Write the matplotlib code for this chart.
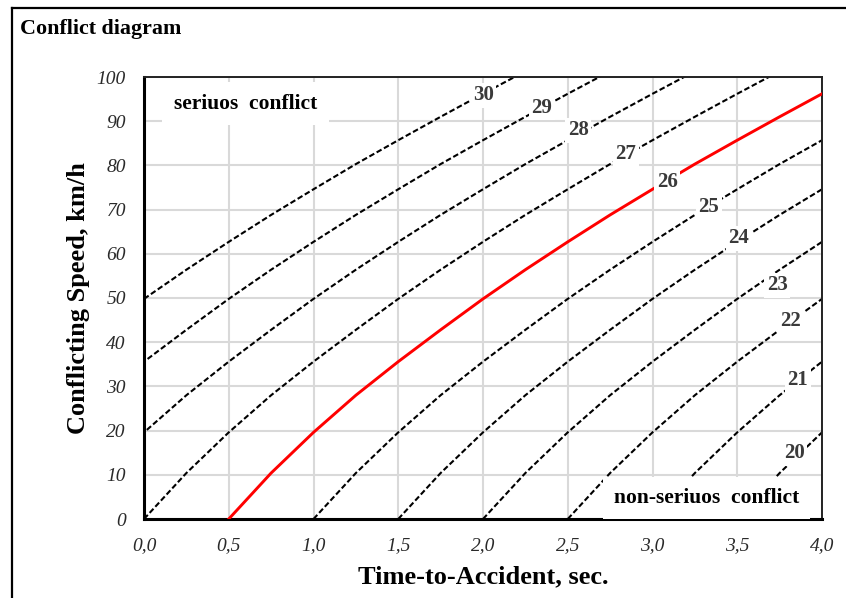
import numpy as np
import matplotlib
matplotlib.use("Agg")
import matplotlib.pyplot as plt
from matplotlib.lines import Line2D

# ----------------------------
# Data
# ----------------------------
# shape of one boundary curve: speed (km/h) vs. time after the curve's start (s)
CURVE_DT = [0.0, 0.25, 0.5, 0.75, 1.0, 1.25, 1.5, 1.75, 2.0, 2.25,
            2.5, 2.75, 3.0, 3.25, 3.5, 3.75, 4.0]
CURVE_SPEED = [0.0, 10.4, 19.6, 28.0, 35.6, 42.8, 49.8, 56.4, 62.7, 68.8,
               74.6, 80.3, 85.7, 91.0, 96.2, 101.3, 106.2]

# severity level of each curve and the TA where it leaves the speed=0 axis
LEVELS = [30, 29, 28, 27, 26, 25, 24, 23, 22, 21, 20]
START_TA = [-1.5, -1.0, -0.5, 0.0, 0.5, 1.0, 1.5, 2.0, 2.5, 3.0, 3.5]
HIGHLIGHT = 26

# where the level numbers sit
LABEL_X = [2.003, 2.348, 2.563, 2.844, 3.088, 3.333, 3.510, 3.735, 3.817, 3.858, 3.835]
LABEL_Y = [95.9, 93.0, 88.0, 82.5, 76.2, 70.6, 63.5, 52.9, 44.8, 31.4, 14.9]

X_TICKS = [0.0, 0.5, 1.0, 1.5, 2.0, 2.5, 3.0, 3.5, 4.0]
X_TICK_LABELS = ["0,0", "0,5", "1,0", "1,5", "2,0", "2,5", "3,0", "3,5", "4,0"]
Y_TICKS = [0, 10, 20, 30, 40, 50, 60, 70, 80, 90, 100]

SERIF = "Liberation Serif"

# ----------------------------
# Figure
# ----------------------------
fig = plt.figure(figsize=(8.46, 5.98), dpi=100)
ax = fig.add_axes([144 / 846, 1 - 519 / 598, 678 / 846, 442 / 598])

dt = np.array(CURVE_DT)
sp = np.array(CURVE_SPEED)
for level, t0 in zip(LEVELS, START_TA):
    if level == HIGHLIGHT:
        ax.plot(dt + t0, sp, color="#ff0000", lw=2.1, zorder=3)
    else:
        ax.plot(dt + t0, sp, color="black", lw=1.5, dashes=(2.7, 1.3), zorder=2)

for level, lx, ly in zip(LEVELS, LABEL_X, LABEL_Y):
    ax.text(lx, ly, str(level), ha="center", va="center", fontsize=15,
            fontfamily=SERIF, fontweight="bold", color="#3a3a3a", zorder=5,
            bbox=dict(boxstyle="square,pad=0.12", fc="white", ec="none"))

ax.text(0.6, 94, "seriuos  conflict", ha="center", va="center", fontsize=15.5,
        fontfamily=SERIF, fontweight="bold", color="black", zorder=5,
        bbox=dict(boxstyle="square,pad=0.55", fc="white", ec="none"))
ax.text(3.317, 4.7, "non-seriuos  conflict", ha="center", va="center", fontsize=15.5,
        fontfamily=SERIF, fontweight="bold", color="black", zorder=5,
        bbox=dict(boxstyle="square,pad=0.5", fc="white", ec="none"))

ax.set_xlim(0, 4)
ax.set_ylim(0, 100)
ax.set_xticks(X_TICKS)
ax.set_xticklabels(X_TICK_LABELS)
ax.set_yticks(Y_TICKS)
ax.tick_params(length=0, labelsize=14, labelcolor="#2a2a2a")
ax.tick_params(axis="x", pad=13)
ax.tick_params(axis="y", pad=13)
for lab in ax.get_xticklabels() + ax.get_yticklabels():
    lab.set_fontfamily(SERIF)
    lab.set_fontstyle("italic")

ax.grid(True, color="#d9d9d9", lw=1.5, zorder=0)
ax.set_axisbelow(True)

for side in ["left", "bottom"]:
    ax.spines[side].set_linewidth(2.2)
    ax.spines[side].set_color("black")
for side in ["top", "right"]:
    ax.spines[side].set_linewidth(1.4)
    ax.spines[side].set_color("#222222")

ax.set_xlabel("Time-to-Accident, sec.", fontsize=19, fontfamily=SERIF,
              fontweight="bold", labelpad=8)
ax.set_ylabel("Conflicting Speed, km/h", fontsize=19, fontfamily=SERIF,
              fontweight="bold")
ax.yaxis.set_label_coords(-0.08, 0.5)

# title and the frame of the chart area
fig.text(20 / 846, 1 - 29 / 598, "Conflict diagram", ha="left", va="center",
         fontsize=15.8, fontfamily=SERIF, fontweight="bold")
fig.add_artist(Line2D([12 / 846, 12 / 846], [0, 1 - 8 / 598], color="black", lw=1.6))
fig.add_artist(Line2D([12 / 846, 1], [1 - 8 / 598, 1 - 8 / 598], color="black", lw=1.6))

fig.savefig("out.png", dpi=100)
